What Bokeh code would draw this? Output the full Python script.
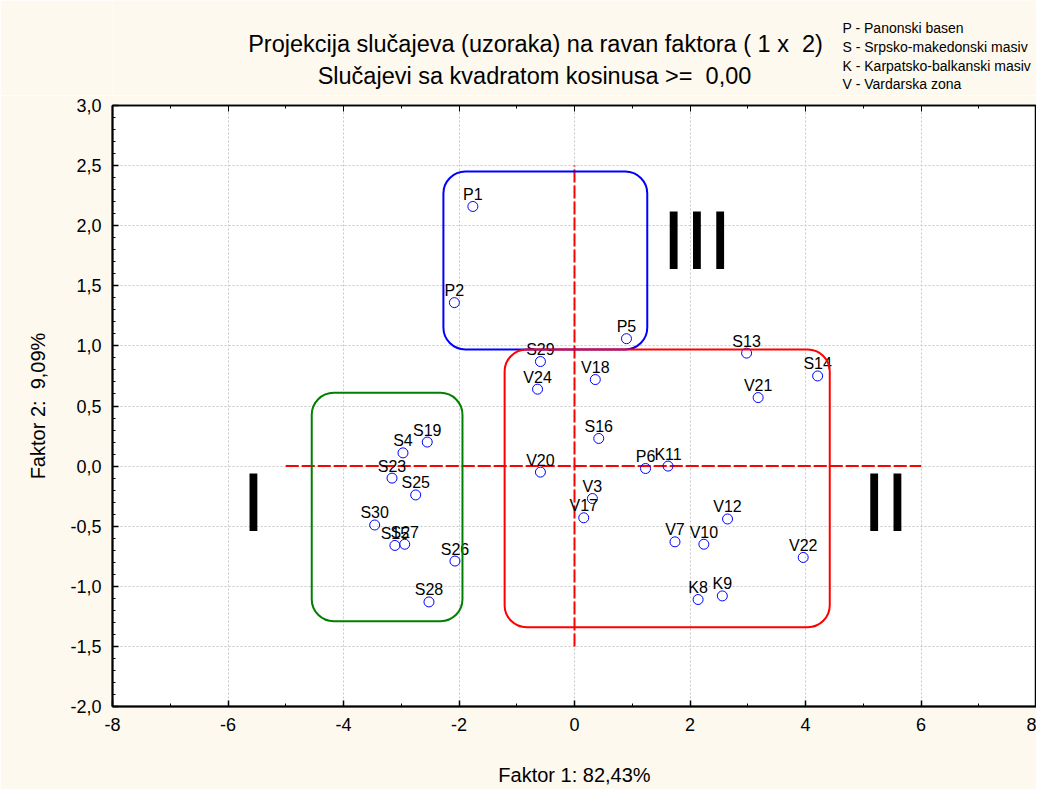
from bokeh.plotting import figure
from bokeh.layouts import column
from bokeh.models import FixedTicker, LinearAxis, Label, BoxAnnotation, Range1d, ColumnDataSource
from bokeh.core.properties import value
from bokeh.embed import file_html
from bokeh.resources import INLINE

# ---- data ----
names = ["P1", "P2", "P5", "P6",
         "S4", "S13", "S14", "S15", "S16", "S19", "S23", "S25", "S26", "S27", "S28", "S29", "S30",
         "K8", "K9", "K11",
         "V3", "V7", "V10", "V12", "V17", "V18", "V20", "V21", "V22", "V24"]
factor1 = [-1.76, -2.08, 0.90, 1.23,
           -2.97, 2.98, 4.21, -3.11, 0.42, -2.55, -3.16, -2.75, -2.07, -2.94, -2.52, -0.59, -3.46,
           2.14, 2.56, 1.62,
           0.31, 1.74, 2.24, 2.65, 0.16, 0.36, -0.59, 3.18, 3.96, -0.64]
factor2 = [2.16, 1.36, 1.06, -0.02,
           0.11, 0.94, 0.75, -0.66, 0.23, 0.20, -0.10, -0.24, -0.79, -0.65, -1.13, 0.87, -0.49,
           -1.11, -1.08, 0.00,
           -0.27, -0.63, -0.65, -0.44, -0.43, 0.72, -0.05, 0.57, -0.76, 0.64]

x_ticks = [-8, -6, -4, -2, 0, 2, 4, 6, 8]
y_ticks = [-2.0, -1.5, -1.0, -0.5, 0.0, 0.5, 1.0, 1.5, 2.0, 2.5, 3.0]
x_labels = ["-8", "-6", "-4", "-2", "0", "2", "4", "6", "8"]
y_labels = ["-2,0", "-1,5", "-1,0", "-0,5", "0,0", "0,5", "1,0", "1,5", "2,0", "2,5", "3,0"]

title_1 = "Projekcija slučajeva (uzoraka) na ravan faktora ( 1 x\u00a0 2)"
title_2 = "Slučajevi sa kvadratom kosinusa >=\u00a0 0,00"
legend_lines = ["P - Panonski basen", "S - Srpsko-makedonski masiv",
                "K - Karpatsko-balkanski masiv", "V - Vardarska zona"]
x_title = "Faktor 1: 82,43%"
y_title = "Faktor 2:\u00a0 9,09%"

FONT = "Liberation Sans"
CREAM = "#FDF9EE"
LEFT = 112
FW = 924
W = LEFT + FW
HDR_H = 95

# ---- header (titles + group legend); x in page pixels ----
hdr = figure(frame_width=FW, height=HDR_H, x_range=Range1d(LEFT, W), y_range=Range1d(HDR_H, 0),
             output_backend="svg", toolbar_location=None, x_axis_type=None, y_axis_type=None,
             min_border_left=LEFT, min_border_right=0, min_border_top=0, min_border_bottom=0)
hdr.background_fill_color = CREAM
hdr.border_fill_color = CREAM
hdr.outline_line_color = None
hdr.grid.visible = False
hdr.text(x=[535, 534], y=[43, 75], text=[title_1, title_2], text_align="center",
         text_baseline="middle", text_font=value(FONT), text_font_size="23.5px",
         text_color="black")
hdr.text(x=[842] * 4, y=[27, 46, 65, 83], text=legend_lines, text_align="left",
         text_baseline="middle", text_font=value(FONT), text_font_size="14px",
         text_color="black")

# ---- main plot ----
p = figure(frame_width=FW, frame_height=601,
           x_range=Range1d(-8, 8), y_range=Range1d(-2, 3),
           output_backend="svg", toolbar_location=None,
           min_border_left=LEFT, min_border_right=0, min_border_top=10, min_border_bottom=83)
p.background_fill_color = "white"
p.border_fill_color = CREAM
p.outline_line_color = "black"
p.outline_line_width = 1.5

xminor = [v + 1 for v in x_ticks[:-1]]
yminor = [round(-2 + 0.1 * i, 2) for i in range(51)]
xt = FixedTicker(ticks=x_ticks, minor_ticks=xminor)
yt = FixedTicker(ticks=y_ticks, minor_ticks=yminor)

for ax in (p.xaxis[0], p.yaxis[0]):
    ax.axis_line_width = 2
    ax.major_tick_in = 6
    ax.major_tick_out = 0
    ax.minor_tick_in = 3
    ax.minor_tick_out = 0
    ax.major_tick_line_width = 1.5
    ax.major_label_text_font = FONT
    ax.major_label_text_font_size = "18px"
    ax.major_label_text_color = "black"
    ax.major_label_standoff = 11
    ax.axis_label_text_font = FONT
    ax.axis_label_text_font_size = "20px"
    ax.axis_label_text_font_style = "normal"
    ax.axis_label_text_color = "black"

p.xaxis[0].ticker = xt
p.yaxis[0].ticker = yt
p.xaxis[0].major_label_overrides = {t: l for t, l in zip(x_ticks, x_labels)}
p.yaxis[0].major_label_overrides = {t: l for t, l in zip(y_ticks, y_labels)}
p.xaxis[0].axis_label = x_title
p.yaxis[0].axis_label = y_title
p.xaxis[0].axis_label_standoff = 30
p.yaxis[0].axis_label_standoff = 18

top = LinearAxis(ticker=FixedTicker(ticks=x_ticks, minor_ticks=xminor),
                 major_label_overrides={t: "" for t in x_ticks},
                 major_tick_in=6, major_tick_out=0, minor_tick_in=3, minor_tick_out=0,
                 axis_line_width=1.5, major_label_text_font_size="1px",
                 major_label_standoff=0)
p.add_layout(top, "above")

p.xgrid.ticker = xt
p.ygrid.ticker = yt
for g in (p.xgrid[0], p.ygrid[0]):
    g.grid_line_color = "#C8C8C8"
    g.grid_line_dash = "2 2"
    g.grid_line_width = 1

# red reference lines
p.segment(x0=[-5, 0], y0=[0, -1.5], x1=[6, 0], y1=[0, 2.5],
          line_color="#FF0000", line_width=2, line_dash="13 3")

# rounded group boxes
boxes = [(-2.27, 1.26, 2.45, 0.97, "#0000FF"),
         (-1.21, 4.42, 0.97, -1.34, "#FF0000"),
         (-4.55, -1.94, 0.61, -1.29, "#008000")]
for l, r, t, b, c in boxes:
    p.add_layout(BoxAnnotation(left=l, right=r, top=t, bottom=b, fill_color=None,
                               fill_alpha=0, line_color=c, line_alpha=1.0, line_width=2,
                               border_radius=22))

src = ColumnDataSource(dict(x=factor1, y=factor2, name=names))
p.scatter("x", "y", source=src, marker="circle", size=10, fill_color=None,
          line_color="#0000FF", line_width=1)
p.text("x", "y", text="name", source=src, text_align="center", text_baseline="alphabetic",
       y_offset=-12, text_font=value(FONT), text_font_size="16px", text_color="black")

# roman numerals
for txt, x, y in [("I", -5.56, -0.30), ("II", 5.39, -0.30), ("III", 2.12, 1.885)]:
    p.add_layout(Label(x=x, y=y, text=txt, text_align="center", text_baseline="alphabetic",
                       text_font=FONT, text_font_size="84px", text_color="black"))

layout = column(hdr, p, spacing=0)
open("out.html", "w").write(file_html(layout, INLINE))
